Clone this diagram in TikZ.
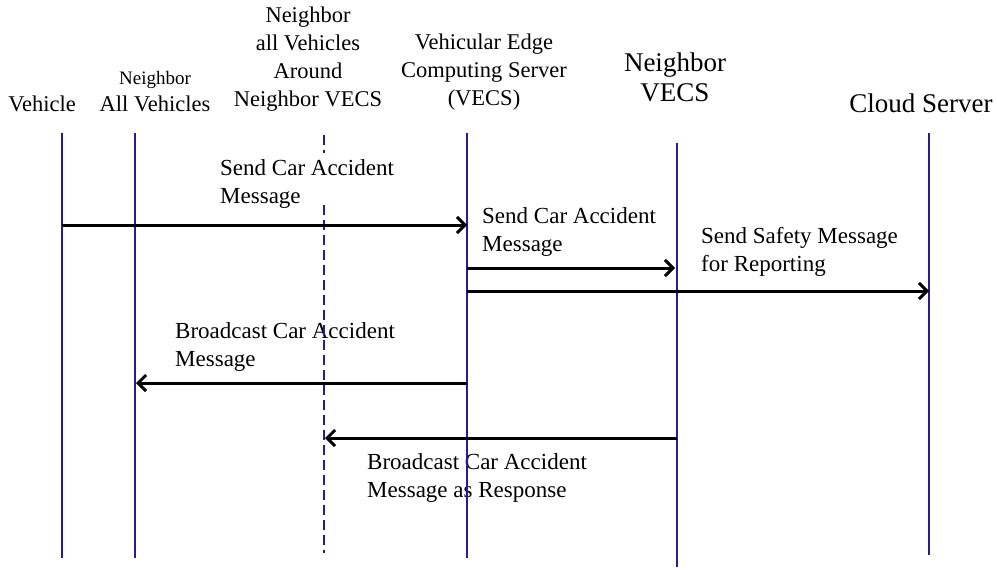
\documentclass[tikz,border=0pt]{standalone}
\usepackage{fontspec}
\setmainfont{Liberation Serif}
\usetikzlibrary{arrows.meta}
\definecolor{lifeblue}{RGB}{35,30,145}
\tikzset{
  lifeline/.style={draw=lifeblue, line width=2.8pt},
  dashlife/.style={draw=lifeblue, line width=2.8pt, dash pattern=on 10pt off 5pt},
  msg/.style={draw=black, line width=3pt, -{Straight Barb[length=8pt,width=16pt,line width=3pt]}},
  head/.style={align=center, inner sep=0pt, font=\fontsize{22.5}{27.8}\selectfont},
  bighead/.style={align=center, inner sep=0pt, font=\fontsize{27}{30}\selectfont},
  smallhead/.style={align=center, inner sep=0pt, font=\fontsize{19}{23}\selectfont},
  lbl/.style={align=left, anchor=west, inner sep=0pt, font=\fontsize{23}{28}\selectfont}
}
\begin{document}
\begin{tikzpicture}[x=1pt,y=-1pt]
\useasboundingbox[fill=white] (0,0) rectangle (997,570);

% headers
\node[head] (hveh) at (42,104) {Vehicle};
\node[smallhead] (hnall1) at (155,80) {Neighbor};
\node[head] (hnall2) at (155,104) {All Vehicles};
\node[head] (hnaround) at (308,59) {Neighbor\\all Vehicles\\Around\\Neighbor VECS};
\node[head] (hvecs) at (484,72) {Vehicular Edge\\Computing Server\\(VECS)};
\node[bighead] (hnvecs) at (675,77) {Neighbor\\VECS};
\node[bighead] (hcloud) at (921,103) {Cloud Server};

% lifeline coordinates
\coordinate (vT) at (62,133);   \coordinate (vB) at (62,558);
\coordinate (naT) at (135,133); \coordinate (naB) at (135,558);
\coordinate (dT) at (324,135);  \coordinate (dG1) at (324,153);
\coordinate (dG2) at (324,205); \coordinate (dB) at (324,553);
\coordinate (eT) at (467,133);  \coordinate (eB) at (467,558);
\coordinate (nT) at (677,143);  \coordinate (nB) at (677,567);
\coordinate (cT) at (929,133);  \coordinate (cB) at (929,555);

% message labels
\node[lbl] (l1) at (220,184) {Send Car Accident\\Message};
\node[lbl] (l2) at (482,232) {Send Car Accident\\Message};
\node[lbl] (l3) at (701,252) {Send Safety Message\\for Reporting};
\node[lbl] (l4) at (175,347) {Broadcast Car Accident\\Message};
\node[lbl] (l5) at (367,478) {Broadcast Car Accident\\Message as Response};

% lifelines
\draw[lifeline] (vT) -- (vB);
\draw[lifeline] (naT) -- (naB);
\draw[dashlife] (dT) -- (dG1);
\draw[dashlife] (dG2) -- (dB);
\draw[lifeline] (eT) -- (eB);
\draw[lifeline] (nT) -- (nB);
\draw[lifeline] (cT) -- (cB);

% message endpoints
\coordinate (m1s) at (62,225);  \coordinate (m1e) at (467,225);
\coordinate (m2s) at (467,268); \coordinate (m2e) at (675,268);
\coordinate (m3s) at (467,291); \coordinate (m3e) at (929,291);
\coordinate (m4s) at (467,383); \coordinate (m4e) at (136,383);
\coordinate (m5s) at (677,438); \coordinate (m5e) at (325,438);

\draw[msg] (m1s) -- (m1e);
\draw[msg] (m2s) -- (m2e);
\draw[msg] (m3s) -- (m3e);
\draw[msg] (m4s) -- (m4e);
\draw[msg] (m5s) -- (m5e);
\end{tikzpicture}
\end{document}
